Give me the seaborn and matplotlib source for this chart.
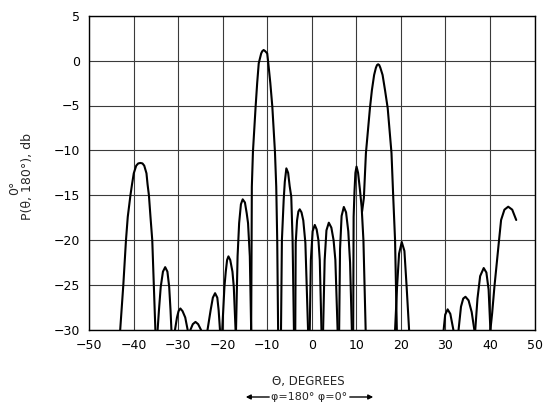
import matplotlib
matplotlib.use("Agg")
import matplotlib.pyplot as plt
import seaborn as sns
import pandas as pd

# ---- data (theta in degrees, power in dB) ----
theta_01 = [-43.0, -42.3, -41.7, -41.3, -40.7, -40.35, -39.95, -39.4, -38.95, -38.45, -38.0, -37.6, -37.1, -36.85, -36.55, -36.2, -35.8, -35.45, -35.1]
db_01    = [-30.0, -25.0, -20.0, -17.4, -15.0, -13.8, -12.55, -11.7, -11.45, -11.4, -11.45, -11.7, -12.55, -13.8, -15.0, -17.4, -20.0, -25.0, -30.0]

theta_02 = [-34.6, -34.3, -33.9, -33.4, -32.9, -32.4, -32.0, -31.7, -31.5]
db_02    = [-30.0, -27.8, -25.2, -23.5, -23.0, -23.5, -25.2, -27.8, -30.0]

theta_03 = [-30.7, -30.25, -29.9, -29.5, -29.0, -28.4, -27.85]
db_03    = [-30.0, -28.6, -27.9, -27.6, -27.9, -28.6, -30.0]

theta_04 = [-27.25, -26.7, -26.1, -25.5, -24.85]
db_04    = [-30.0, -29.35, -29.1, -29.35, -30.0]

theta_05 = [-23.4, -22.7, -22.2, -21.7, -21.2, -20.9, -20.6]
db_05    = [-30.0, -27.8, -26.4, -25.9, -26.4, -27.8, -30.0]

theta_06 = [-20.1, -19.6, -19.3, -19.0, -18.7, -18.3, -17.8, -17.5, -17.1]
db_06    = [-30.0, -25.2, -23.5, -22.2, -21.8, -22.2, -23.5, -25.2, -30.0]

theta_07 = [-17.0, -16.65, -16.3, -15.9, -15.5, -15.0, -14.6, -14.3, -13.9, -13.6]
db_07    = [-30.0, -21.8, -18.1, -16.0, -15.45, -15.8, -17.0, -18.1, -21.8, -30.0]

theta_08 = [-13.6, -13.5, -13.45, -13.2, -12.6, -12.25, -11.9, -11.35, -11.1, -10.8, -10.45, -10.0, -9.75, -9.3, -8.85, -8.26, -7.97, -7.75, -7.55]
db_08    = [-30.0, -20.0, -14.05, -10.15, -5.13, -2.5, -0.3, 0.8, 1.05, 1.18, 1.05, 0.8, -0.3, -2.5, -5.13, -10.15, -14.05, -20.0, -30.0]

theta_09 = [-6.9, -6.7, -6.3, -6.05, -5.7, -5.3, -4.95, -4.6, -4.3, -4.0]
db_09    = [-30.0, -20.0, -15.5, -13.5, -12.0, -12.5, -14.0, -15.15, -20.0, -30.0]

theta_10 = [-3.7, -3.6, -3.3, -3.0, -2.7, -2.3, -1.9, -1.43, -0.83]
db_10    = [-30.0, -20.3, -17.8, -16.8, -16.56, -16.9, -17.8, -20.3, -30.0]

theta_11 = [-0.45, -0.2, 0.2, 0.68, 1.1, 1.5, 1.8, 2.18]
db_11    = [-30.0, -22.2, -19.0, -18.3, -18.8, -20.0, -22.2, -30.0]

theta_12 = [2.55, 2.9, 3.3, 3.83, 4.4, 4.9, 5.3, 5.8]
db_12    = [-30.0, -22.2, -18.9, -18.05, -18.6, -20.0, -22.2, -30.0]

theta_13 = [6.15, 6.35, 6.7, 7.2, 7.7, 8.2, 8.6, 9.0]
db_13    = [-30.0, -21.0, -17.3, -16.3, -16.9, -19.0, -22.5, -30.0]

theta_14 = [9.3, 9.4, 9.6, 9.8, 10.05, 10.4, 10.8, 11.2, 11.6, 12.1]
db_14    = [-30.0, -17.4, -14.5, -12.5, -11.8, -12.5, -14.3, -16.3, -20.0, -30.0]

theta_15 = [11.3, 11.7, 12.16, 13.06, 13.5, 14.0, 14.4, 14.65, 14.9, 15.15, 15.4, 15.9, 16.45, 17.05, 17.9, 18.3, 18.7, 19.1]
db_15    = [-16.8, -15.3, -10.3, -5.3, -3.3, -1.6, -0.8, -0.5, -0.41, -0.5, -0.8, -1.6, -3.3, -5.3, -10.3, -15.3, -20.0, -30.0]

theta_16 = [18.7, 19.15, 19.6, 20.2, 20.8, 21.3, 21.85]
db_16    = [-30.0, -25.2, -21.5, -20.2, -21.2, -25.2, -30.0]

theta_17 = [29.6, 29.95, 30.5, 31.1, 31.8]
db_17    = [-30.0, -28.3, -27.7, -28.2, -30.0]

theta_18 = [32.95, 33.5, 34.0, 34.5, 35.2, 35.9, 36.5]
db_18    = [-30.0, -27.4, -26.5, -26.3, -26.7, -28.0, -30.0]

theta_19 = [36.7, 37.2, 37.8, 38.6, 39.2, 39.7, 40.1]
db_19    = [-30.0, -26.5, -24.0, -23.1, -23.6, -25.5, -30.0]

theta_20 = [40.1, 40.5, 41.0, 42.0, 42.5, 43.25, 44.1, 45.0, 45.9]
db_20    = [-30.0, -28.1, -25.2, -20.2, -17.75, -16.6, -16.27, -16.6, -17.75]

x_ticks = [-50, -40, -30, -20, -10, 0, 10, 20, 30, 40, 50]
y_ticks = [5, 0, -5, -10, -15, -20, -25, -30]

lobes = [
    (theta_01, db_01), (theta_02, db_02), (theta_03, db_03), (theta_04, db_04),
    (theta_05, db_05), (theta_06, db_06), (theta_07, db_07), (theta_08, db_08),
    (theta_09, db_09), (theta_10, db_10), (theta_11, db_11), (theta_12, db_12),
    (theta_13, db_13), (theta_14, db_14), (theta_15, db_15), (theta_16, db_16),
    (theta_17, db_17), (theta_18, db_18), (theta_19, db_19), (theta_20, db_20),
]

rows = []
for i, (th, db) in enumerate(lobes):
    for t, d in zip(th, db):
        rows.append({"theta": t, "db": d, "lobe": i})
df = pd.DataFrame(rows)

# ---- figure ----
sns.set_theme(style="white")
plt.rcParams["font.family"] = ["DejaVu Sans"]
plt.rcParams["axes.unicode_minus"] = True

W, H = 543, 407
fig = plt.figure(figsize=(W / 100, H / 100), dpi=100)
ax = fig.add_axes([89 / W, 1 - 330 / H, (534.5 - 89) / W, (330 - 15.7) / H])

sns.lineplot(data=df, x="theta", y="db", units="lobe", estimator=None,
             sort=False, color="black", linewidth=1.5, ax=ax, legend=False)

ax.set_xlim(-50, 50)
ax.set_ylim(-30, 5)
ax.set_xticks(x_ticks)
ax.set_yticks(y_ticks)
ax.set_xticklabels([str(v).replace("-", "\u2212") for v in x_ticks])
ax.set_yticklabels([str(v).replace("-", "\u2212") for v in y_ticks])
ax.tick_params(axis="both", length=0, labelsize=9, colors="black", pad=6.5)
ax.grid(True, color="#3a3a3a", linewidth=0.8)
ax.set_axisbelow(True)
for s in ax.spines.values():
    s.set_color("black")
    s.set_linewidth(1.0)
ax.set_xlabel("")
ax.set_ylabel("")

# y label with stacked 0° above 180°
fig.text(28 / W, 1 - 176 / H, "P(\u03b8, 180\u00b0), db", rotation=90,
         ha="center", va="center", fontsize=9)
fig.text(15 / W, 1 - 188 / H, "0\u00b0", rotation=90,
         ha="center", va="center", fontsize=9)

# x label
fig.text(308 / W, 1 - 382 / H, "\u0398, DEGREES", ha="center", va="center", fontsize=8.5)
fig.text(309 / W, 1 - 397 / H, "\u03c6=180\u00b0 \u03c6=0\u00b0", ha="center", va="center", fontsize=8)
arrow = dict(arrowstyle="-|>", color="black", lw=1.0, mutation_scale=7)
ax.annotate("", xy=(243 / W, 1 - 397 / H), xytext=(272 / W, 1 - 397 / H),
            xycoords="figure fraction", textcoords="figure fraction", arrowprops=arrow)
ax.annotate("", xy=(376 / W, 1 - 397 / H), xytext=(347 / W, 1 - 397 / H),
            xycoords="figure fraction", textcoords="figure fraction", arrowprops=arrow)

fig.savefig("out.png", dpi=100)
